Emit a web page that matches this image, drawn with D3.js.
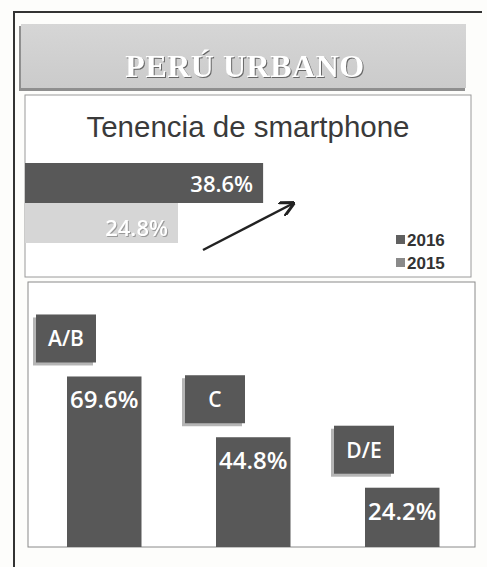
<!DOCTYPE html>
<html>
<head>
<meta charset="utf-8">
<script src="https://cdn.jsdelivr.net/npm/d3@7"></script>
<style>
  body { margin: 0; background: #fdfdfb; }
  svg { display: block; }
</style>
</head>
<body>
<div id="chart"></div>
<script>
// data
var years = ["2016", "2015"]
var tenencia = [38.6, 24.8]
var nse = ["A/B", "C", "D/E"]
var nseValues = [69.6, 44.8, 24.2]

var W = 487, H = 567
var darkGray = "#585858", lightGray = "#d6d6d6"

var svg = d3.select("#chart").append("svg")
  .attr("width", W)
  .attr("height", H)

var defs = svg.append("defs")
var grad = defs.append("linearGradient").attr("id", "banner").attr("x1", 0).attr("y1", 0).attr("x2", 0).attr("y2", 1)
grad.append("stop").attr("offset", "0%").attr("stop-color", "#d6d6d6")
grad.append("stop").attr("offset", "100%").attr("stop-color", "#cbcbcb")

defs.append("marker")
  .attr("id", "arrow")
  .attr("viewBox", "0 0 10 10")
  .attr("refX", 8).attr("refY", 5)
  .attr("markerWidth", 6).attr("markerHeight", 6)
  .attr("orient", "auto")
  .append("path")
  .attr("d", "M0,0 L10,5 L0,10")
  .attr("fill", "none")
  .attr("stroke", "#222")
  .attr("stroke-width", 2)

// outer frame (top + left)
svg.append("path")
  .attr("d", "M14,567 L14,12 L482,12")
  .attr("fill", "none")
  .attr("stroke", "#333")
  .attr("stroke-width", 2)

// title banner
svg.append("rect").attr("x", 19).attr("y", 26).attr("width", 446).attr("height", 65).attr("fill", "#8f8f8f")
svg.append("rect").attr("x", 21).attr("y", 24).attr("width", 445).attr("height", 64).attr("fill", "url(#banner)")
svg.append("text")
  .attr("x", 245).attr("y", 77)
  .attr("text-anchor", "middle")
  .style("font-family", "'Liberation Serif', 'DejaVu Serif', serif")
  .style("font-weight", "bold")
  .style("font-size", "32px")
  .style("letter-spacing", "0.5px")
  .style("fill", "#fff")
  .style("filter", "drop-shadow(1.5px 1.5px 0.6px #666)")
  .text("PERÚ URBANO")

// ---- top panel: Tenencia de smartphone
svg.append("rect")
  .attr("x", 25).attr("y", 95).attr("width", 446).attr("height", 182)
  .attr("fill", "#fff").attr("stroke", "#9a9a9a").attr("stroke-width", 1)

svg.append("text")
  .attr("x", 248).attr("y", 137)
  .attr("text-anchor", "middle")
  .style("font-family", "'Liberation Sans', Arial, sans-serif")
  .style("font-size", "29.5px")
  .style("fill", "#3a3a3a")
  .text("Tenencia de smartphone")

var x1 = d3.scaleLinear().domain([0, 72.3]).range([25, 471])
var y1 = d3.scaleBand().domain(years).range([163, 243])

var topData = years.map(function (d, i) { return { year: d, value: tenencia[i] } })

svg.selectAll(".tbar").data(topData).enter().append("rect")
  .attr("class", "tbar")
  .attr("x", x1(0))
  .attr("y", function (d) { return y1(d.year) })
  .attr("width", function (d) { return x1(d.value) - x1(0) })
  .attr("height", y1.bandwidth())
  .attr("fill", function (d) { return d.year === "2016" ? darkGray : lightGray })

svg.selectAll(".tlabel").data(topData).enter().append("text")
  .attr("class", "tlabel")
  .attr("x", function (d) { return x1(d.value) - 10 })
  .attr("y", function (d) { return y1(d.year) + y1.bandwidth() / 2 + 9 + (d.year === "2015" ? 4 : 0) })
  .attr("text-anchor", "end")
  .style("font-family", "'Open Sans', sans-serif")
  .style("font-size", "22px")
  .style("font-weight", "600")
  .style("fill", "#fff")
  .style("filter", function (d) { return d.year === "2015" ? "drop-shadow(1px 1px 0.5px #999)" : null })
  .text(function (d) { return d.value.toFixed(1) + "%" })

// arrow
svg.append("line")
  .attr("x1", 203).attr("y1", 250)
  .attr("x2", 292).attr("y2", 204)
  .attr("stroke", "#222")
  .attr("stroke-width", 2.5)
  .attr("marker-end", "url(#arrow)")

// legend
var legend = svg.selectAll(".leg").data(years).enter().append("g")
  .attr("class", "leg")
  .attr("transform", function (d, i) { return "translate(396," + (240 + i * 23) + ")" })
legend.append("rect")
  .attr("x", 0).attr("y", -5).attr("width", 9).attr("height", 9)
  .attr("fill", function (d) { return d === "2016" ? "#606060" : "#8a8a8a" })
legend.append("text")
  .attr("x", 11).attr("y", 6)
  .style("font-family", "'Liberation Sans', Arial, sans-serif")
  .style("font-weight", "bold")
  .style("font-size", "17px")
  .style("fill", "#333")
  .text(function (d) { return d })

// ---- bottom panel: by NSE
svg.append("rect")
  .attr("x", 28).attr("y", 282).attr("width", 447).attr("height", 265)
  .attr("fill", "#fff").attr("stroke", "#8a8a8a").attr("stroke-width", 1)

var x2 = d3.scaleBand().domain(nse).range([29.75, 476.75]).paddingInner(0.5).paddingOuter(0.25)
var y2 = d3.scaleLinear().domain([0, 100]).range([547, 302])

var botData = nse.map(function (d, i) { return { cat: d, value: nseValues[i] } })

svg.selectAll(".bbar").data(botData).enter().append("rect")
  .attr("class", "bbar")
  .attr("x", function (d) { return x2(d.cat) })
  .attr("y", function (d) { return y2(d.value) })
  .attr("width", x2.bandwidth())
  .attr("height", function (d) { return y2(0) - y2(d.value) })
  .attr("fill", darkGray)

svg.selectAll(".blabel").data(botData).enter().append("text")
  .attr("class", "blabel")
  .attr("x", function (d) { return x2(d.cat) + x2.bandwidth() / 2 })
  .attr("y", function (d) { return y2(d.value) + 32 })
  .attr("text-anchor", "middle")
  .style("font-family", "'Open Sans', sans-serif")
  .style("font-size", "24px")
  .style("font-weight", "600")
  .style("fill", "#fff")
  .text(function (d) { return d.value.toFixed(1) + "%" })

// category tags
var tags = svg.selectAll(".tag").data(botData).enter().append("g")
  .attr("class", "tag")
  .attr("transform", function (d) { return "translate(" + (x2(d.cat) - 31) + "," + (y2(d.value) - 62) + ")" })
tags.append("rect")
  .attr("x", -3).attr("y", 3).attr("width", 60).attr("height", 48)
  .attr("fill", "#b5b5b5")
tags.append("rect")
  .attr("x", 0).attr("y", 0).attr("width", 60).attr("height", 48)
  .attr("fill", darkGray)
tags.append("text")
  .attr("x", 30).attr("y", 32)
  .attr("text-anchor", "middle")
  .style("font-family", "'Open Sans', sans-serif")
  .style("font-size", "21px")
  .style("font-weight", "600")
  .style("fill", "#fff")
  .text(function (d) { return d.cat })
</script>
</body>
</html>
